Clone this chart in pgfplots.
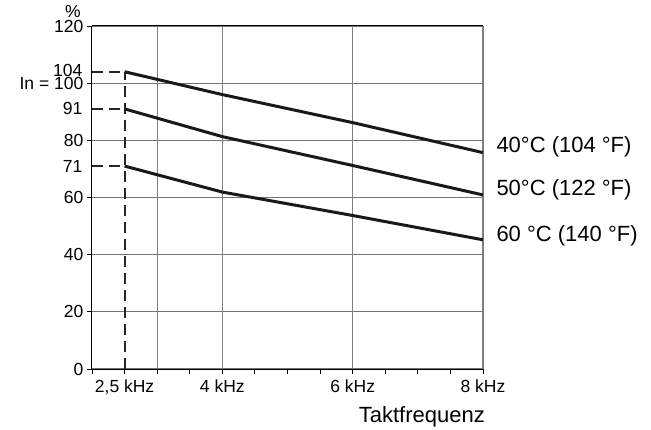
\documentclass[border=0pt]{standalone}
\usepackage{pgfplots}
\pgfplotsset{compat=1.18}
\usepackage{fontspec}
\setmainfont{Liberation Sans}
\begin{document}
\begin{tikzpicture}
\begin{axis}[
  at={(0,0)}, anchor=origin,
  scale only axis, width=391bp, height=343bp,
  xmin=2, xmax=8, ymin=0, ymax=120,
  axis x line*=bottom, axis y line*=left,
  axis line style={black, line width=1bp},
  xtick={2,2.5,...,8},
  xticklabels={,{2,5 kHz},,,4 kHz,,,,6 kHz,,,,8 kHz},
  ytick={0,20,40,60,80,100,120},
  yticklabels={0,20,40,60,80,\raisebox{-0.5bp}{In = 100},\raisebox{-2.5bp}{120}},
  ymajorgrids,
  major grid style={black!55, line width=1.3bp},
  /pgf/number format/assume math mode=true,
  tick align=outside,
  major tick length=4.5bp,
  tick style={black, line width=0.9bp},
  tick label style={font=\fontsize{17.5bp}{20bp}\selectfont, inner sep=1.5bp},
  yticklabel style={xshift=-2.5bp},
  xticklabel style={yshift=-5bp},
  extra x ticks={3,4,6,8},
  extra x tick labels={},
  extra x tick style={grid=major, major tick length=0pt,
     major grid style={black!50, line width=1.3bp}},
  extra y ticks={71,91,104},
  extra y tick labels={\raisebox{-2.5bp}{71},\raisebox{-2bp}{91},\raisebox{2.5bp}{104}},
  extra y tick style={grid=none, major tick length=0pt,
     yticklabel style={xshift=-5.5bp}},
  clip=false,
]
\addplot[black!85, line width=2bp, dash pattern=on 11bp off 6bp] coordinates {(2.5,0) (2.5,104)};
\addplot[black!85, line width=2bp, dash pattern=on 11bp off 6bp] coordinates {(2,104) (2.5,104)};
\addplot[black!85, line width=2bp, dash pattern=on 11bp off 6bp] coordinates {(2,91) (2.5,91)};
\addplot[black!85, line width=2bp, dash pattern=on 11bp off 6bp] coordinates {(2,71) (2.5,71)};
\draw[black, line width=1bp] (axis cs:2,120) -- (axis cs:8,120);
\addplot[black!90, line width=3bp] coordinates {(2.5,104) (4,96) (6,86.2) (8,75.7)};
\addplot[black!90, line width=3bp] coordinates {(2.5,91) (4,81.3) (6,71.2) (8,60.9)};
\addplot[black!90, line width=3bp] coordinates {(2.5,71) (4,61.9) (6,53.7) (8,45.2)};
\node[anchor=west, font=\fontsize{22bp}{25bp}\selectfont] at ([xshift=10bp,yshift=6bp]axis cs:8,75.7) {40°C (104 °F)};
\node[anchor=west, font=\fontsize{22bp}{25bp}\selectfont] at ([xshift=10bp,yshift=5bp]axis cs:8,60.9) {50°C (122 °F)};
\node[anchor=west, font=\fontsize{22bp}{25bp}\selectfont] at ([xshift=10bp,yshift=4bp]axis cs:8,45.2) {60 °C (140 °F)};
\node[anchor=south east, inner sep=0pt, font=\fontsize{17.5bp}{20bp}\selectfont] at ([xshift=-11bp,yshift=8bp]axis cs:2,120) {\%};
\node[anchor=north east, inner sep=0pt, font=\fontsize{22bp}{25bp}\selectfont] at ([xshift=2bp,yshift=-37bp]axis cs:8,0) {Taktfrequenz};
\coordinate (A) at (axis cs:2,0);
\end{axis}
\useasboundingbox ([shift={(-92bp,-61bp)}]A) rectangle ([shift={(559bp,369bp)}]A);
\end{tikzpicture}
\end{document}
